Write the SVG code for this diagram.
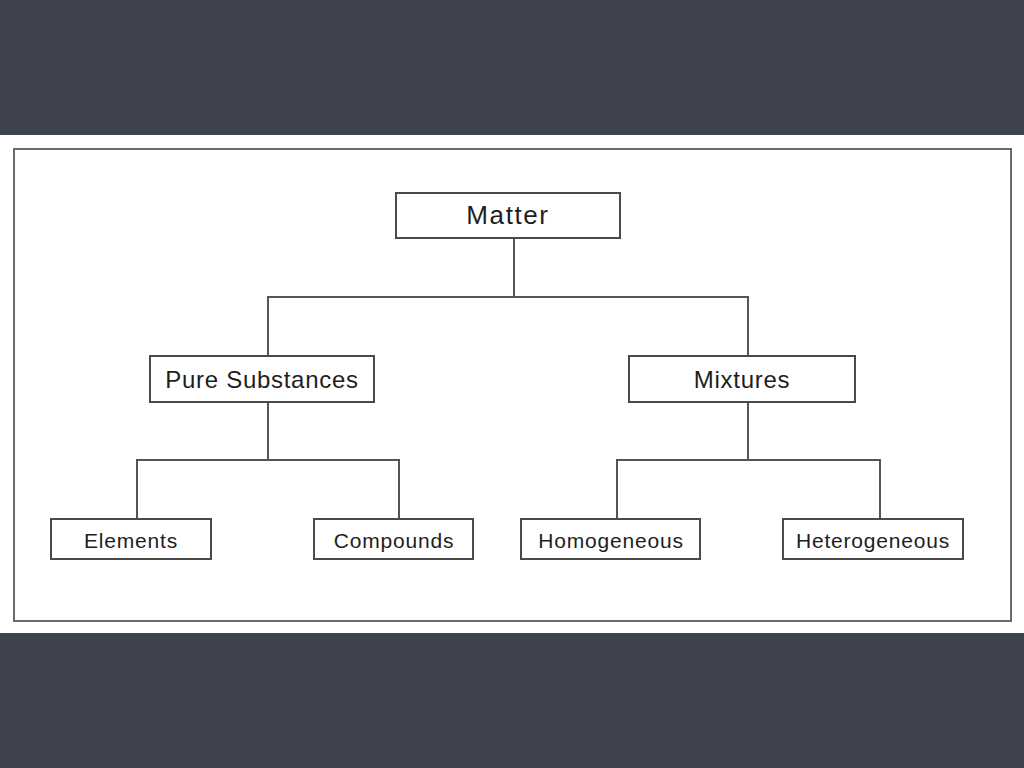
<svg xmlns="http://www.w3.org/2000/svg" width="1024" height="768" viewBox="0 0 1024 768">
<style>
.box{fill:#fff;stroke:#4a4a4a;stroke-width:2}
.lbl{font-family:"Liberation Sans",Arial,sans-serif;fill:#1e1e1e;text-anchor:middle;dominant-baseline:central}
.conn{fill:none;stroke:#555;stroke-width:2}
</style>
<rect width="1024" height="768" fill="#3f4350"/>
<rect x="0" y="135" width="1024" height="498" fill="#fff"/>
<rect x="14" y="149" width="997" height="472" fill="none" stroke="#6a6a6a" stroke-width="2"/>
<g id="connectors" class="conn">
<path d="M514 238V297M268 355V297H748V356"/>
<path d="M268 402V460M137 519V460H399V519"/>
<path d="M748 402V460M617 519V460H880V519"/>
</g>
<g id="matter"><rect class="box" x="396" y="193" width="224" height="45"/><text class="lbl" x="508" y="215" font-size="26" letter-spacing="1.6">Matter</text></g>
<g id="pure"><rect class="box" x="150" y="356" width="224" height="46"/><text class="lbl" x="262" y="379" font-size="24" letter-spacing="0.7">Pure Substances</text></g>
<g id="mixtures"><rect class="box" x="629" y="356" width="226" height="46"/><text class="lbl" x="742" y="379" font-size="24" letter-spacing="0.7">Mixtures</text></g>
<g id="elements"><rect class="box" x="51" y="519" width="160" height="40"/><text class="lbl" x="131" y="540" font-size="21" letter-spacing="0.8">Elements</text></g>
<g id="compounds"><rect class="box" x="314" y="519" width="159" height="40"/><text class="lbl" x="394" y="540" font-size="21" letter-spacing="0.8">Compounds</text></g>
<g id="homogeneous"><rect class="box" x="521" y="519" width="179" height="40"/><text class="lbl" x="611" y="540" font-size="21" letter-spacing="0.8">Homogeneous</text></g>
<g id="heterogeneous"><rect class="box" x="783" y="519" width="180" height="40"/><text class="lbl" x="873" y="540" font-size="21" letter-spacing="0.8">Heterogeneous</text></g>
</svg>
